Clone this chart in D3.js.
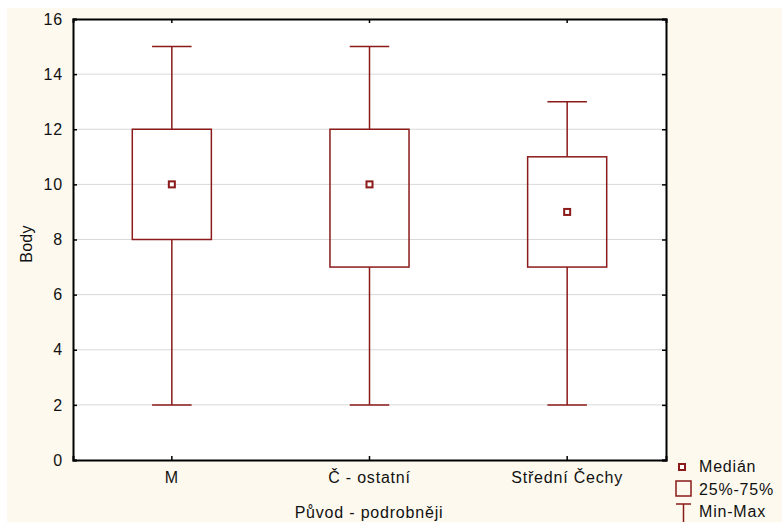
<!DOCTYPE html>
<html>
<head>
<meta charset="utf-8">
<script src="https://cdn.jsdelivr.net/npm/d3@7"></script>
<style>
  body { margin: 0; background: #fff; }
  text { font-family: Arial, "Liberation Sans", sans-serif; fill: #111; }
</style>
</head>
<body>
<div id="chart-area"></div>
<script>
const categories = ["M", "Č - ostatní", "Střední Čechy"]
const mins = [2, 2, 2]
const q1s = [8, 7, 7]
const medians = [10, 10, 9]
const q3s = [12, 12, 11]
const maxs = [15, 15, 13]
const yTicks = [0, 2, 4, 6, 8, 10, 12, 14, 16]

const MARGIN = { LEFT: 73, RIGHT: 116, TOP: 19, BOTTOM: 62 }
const WIDTH = 782 - MARGIN.LEFT - MARGIN.RIGHT
const HEIGHT = 522 - MARGIN.TOP - MARGIN.BOTTOM
const RED = "#8b1a1a"
const FONT = "Arial, 'Liberation Sans', sans-serif"

const svg = d3.select("#chart-area").append("svg")
  .attr("width", 782)
  .attr("height", 522)

// cream page background
svg.append("rect")
  .attr("x", 7).attr("y", 8)
  .attr("width", 775).attr("height", 514)
  .attr("fill", "#fdf9ef")

const g = svg.append("g")
  .attr("transform", `translate(${MARGIN.LEFT}, ${MARGIN.TOP})`)

g.append("rect")
  .attr("width", WIDTH).attr("height", HEIGHT)
  .attr("fill", "#fff")

const data = categories.map((c, i) => ({
  cat: c, min: mins[i], q1: q1s[i], med: medians[i], q3: q3s[i], max: maxs[i]
}))

const xScale = d3.scaleBand()
  .domain(categories)
  .range([0, WIDTH])

const yScale = d3.scaleLinear()
  .domain([0, 16])
  .range([HEIGHT, 0])

// gridlines
g.selectAll(".grid")
  .data(yTicks.filter(t => t > 0 && t < 16))
  .enter().append("line")
  .attr("x1", 0).attr("x2", WIDTH)
  .attr("y1", d => yScale(d)).attr("y2", d => yScale(d))
  .attr("stroke", "#d9d9d9")

const bw = xScale.bandwidth()
const cx = d => xScale(d.cat) + bw / 2

const boxes = g.selectAll(".box").data(data).enter().append("g")

// whiskers
boxes.append("line")
  .attr("x1", cx).attr("x2", cx)
  .attr("y1", d => yScale(d.max)).attr("y2", d => yScale(d.q3))
  .attr("stroke", RED).attr("stroke-width", 1.5)
boxes.append("line")
  .attr("x1", cx).attr("x2", cx)
  .attr("y1", d => yScale(d.q1)).attr("y2", d => yScale(d.min))
  .attr("stroke", RED).attr("stroke-width", 1.5)
boxes.append("line")
  .attr("x1", d => cx(d) - bw * 0.1).attr("x2", d => cx(d) + bw * 0.1)
  .attr("y1", d => yScale(d.max)).attr("y2", d => yScale(d.max))
  .attr("stroke", RED).attr("stroke-width", 1.5)
boxes.append("line")
  .attr("x1", d => cx(d) - bw * 0.1).attr("x2", d => cx(d) + bw * 0.1)
  .attr("y1", d => yScale(d.min)).attr("y2", d => yScale(d.min))
  .attr("stroke", RED).attr("stroke-width", 1.5)

// boxes
boxes.append("rect")
  .attr("x", d => cx(d) - bw * 0.2)
  .attr("width", bw * 0.4)
  .attr("y", d => yScale(d.q3))
  .attr("height", d => yScale(d.q1) - yScale(d.q3))
  .attr("fill", "none").attr("stroke", RED).attr("stroke-width", 1.5)

// median markers
boxes.append("rect")
  .attr("x", d => cx(d) - 3).attr("y", d => yScale(d.med) - 3)
  .attr("width", 6).attr("height", 6)
  .attr("fill", "#fff").attr("stroke", RED).attr("stroke-width", 2)

// axes (ticks point inward)
const yAxis = d3.axisLeft(yScale).tickValues(yTicks).tickSize(-4).tickPadding(10)
const yAxisR = d3.axisRight(yScale).tickValues(yTicks).tickSize(-4).tickFormat("")
const xAxis = d3.axisBottom(xScale).tickSize(-4).tickPadding(12)
const xAxisT = d3.axisTop(xScale).tickSize(-4).tickFormat("")

g.append("g").call(yAxis)
g.append("g").attr("transform", `translate(${WIDTH},0)`).call(yAxisR)
g.append("g").attr("transform", `translate(0,${HEIGHT})`).call(xAxis)
g.append("g").call(xAxisT)

g.selectAll(".domain").attr("stroke", "#000").attr("stroke-width", 2)
g.selectAll(".tick line").attr("stroke", "#000").attr("stroke-width", 1.5)
g.selectAll(".tick text")
  .attr("font-size", "16px")
  .attr("letter-spacing", "0.8px")
  .attr("font-family", FONT)
  .attr("fill", "#111")

// axis labels
svg.append("text")
  .attr("x", 369).attr("y", 518)
  .attr("font-size", "16px")
  .attr("letter-spacing", "0.8px")
  .attr("text-anchor", "middle")
  .text("Původ - podrobněji")
svg.append("text")
  .attr("transform", "translate(32, 244) rotate(-90)")
  .attr("font-size", "16px")
  .attr("letter-spacing", "0.3px")
  .attr("text-anchor", "middle")
  .text("Body")

// legend
const lg = svg.append("g")
  .attr("font-size", "16px")
  .attr("letter-spacing", "0.8px")
lg.append("rect")
  .attr("x", 679).attr("y", 464).attr("width", 6).attr("height", 6)
  .attr("fill", "#fff").attr("stroke", RED).attr("stroke-width", 2)
lg.append("text").attr("x", 699).attr("y", 472).text("Medián")
lg.append("rect")
  .attr("x", 676).attr("y", 481).attr("width", 15).attr("height", 15)
  .attr("fill", "none").attr("stroke", RED).attr("stroke-width", 1.5)
lg.append("text").attr("x", 699).attr("y", 495).text("25%-75%")
lg.append("line")
  .attr("x1", 676).attr("x2", 691).attr("y1", 504).attr("y2", 504)
  .attr("stroke", RED).attr("stroke-width", 1.5)
lg.append("line")
  .attr("x1", 683.5).attr("x2", 683.5).attr("y1", 504).attr("y2", 522)
  .attr("stroke", RED).attr("stroke-width", 1.5)
lg.append("text").attr("x", 699).attr("y", 517).text("Min-Max")
</script>
</body>
</html>
